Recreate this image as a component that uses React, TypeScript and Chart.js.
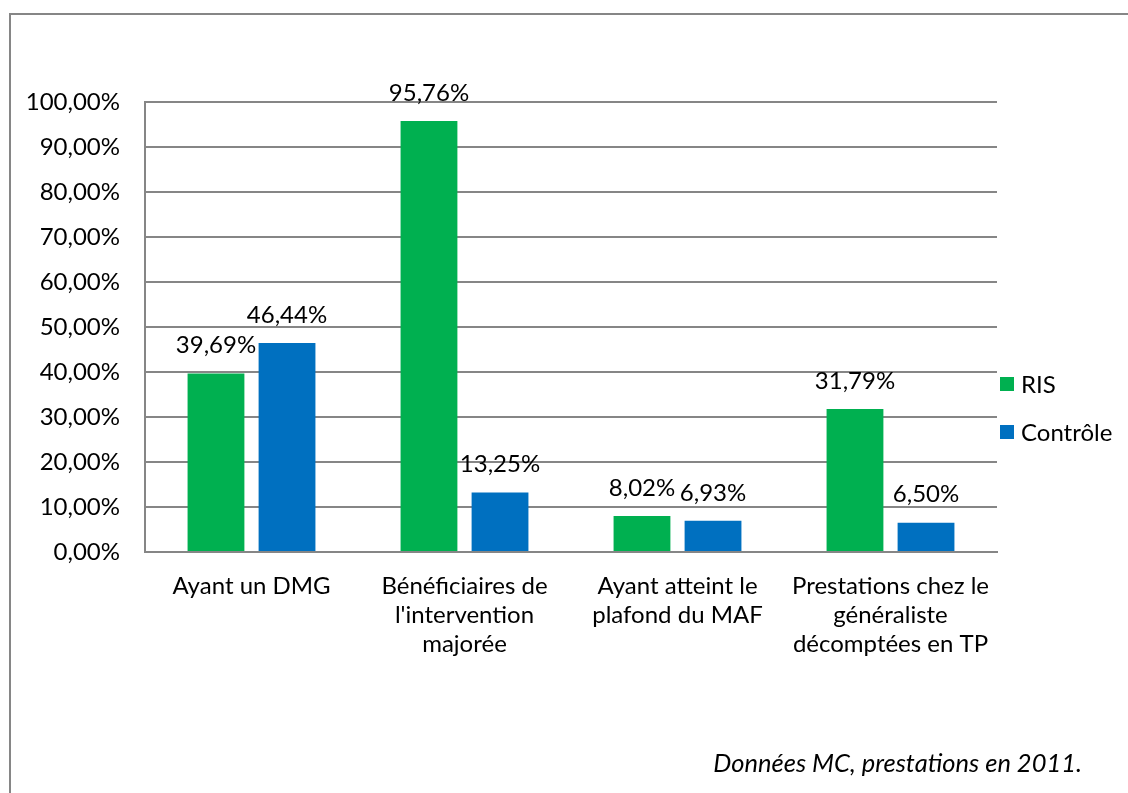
import React, { useEffect, useRef } from "react";
import { Chart, registerables } from "chart.js";

Chart.register(...registerables);

const categories: (string | string[])[] = [
  "Ayant un DMG",
  ["Bénéficiaires de", "l'intervention", "majorée"],
  ["Ayant atteint le", "plafond du MAF"],
  ["Prestations chez le", "généraliste", "décomptées en TP"],
];
const risValues = [39.69, 95.76, 8.02, 31.79];
const controleValues = [46.44, 13.25, 6.93, 6.5];
const seriesNames = ["RIS", "Contrôle"];
const footerText = "Données MC, prestations en 2011.";

const FONT = "Lato, 'Liberation Sans', sans-serif";
const GREEN = "#00B050";
const BLUE = "#0070C0";
const GRID = "#868686";

const fmt = (v: number) => v.toFixed(2).replace(".", ",") + "%";

const labelPlugin = {
  id: "valueLabels",
  afterDatasetsDraw(chart: any) {
    const ctx = chart.ctx;
    ctx.save();
    ctx.font = `24px ${FONT}`;
    ctx.fillStyle = "#000";
    ctx.textAlign = "center";
    ctx.textBaseline = "middle";
    chart.data.datasets.forEach((ds: any, i: number) => {
      const meta = chart.getDatasetMeta(i);
      meta.data.forEach((bar: any, j: number) => {
        ctx.fillText(fmt(ds.data[j]), bar.x, bar.y - 28);
      });
    });
    ctx.restore();
  },
};

const legendPlugin = {
  id: "sideLegend",
  afterDraw(chart: any) {
    const ctx = chart.ctx;
    ctx.save();
    ctx.font = `24px ${FONT}`;
    ctx.textBaseline = "middle";
    ctx.textAlign = "left";
    const ys = [384, 432];
    chart.data.datasets.forEach((ds: any, i: number) => {
      const y = ys[i];
      ctx.fillStyle = ds.backgroundColor;
      ctx.fillRect(1000, y - 7, 14, 14);
      ctx.fillStyle = "#000";
      ctx.fillText(ds.label, 1021, y + 1);
    });
    ctx.restore();
  },
};

export default function App() {
  const ref = useRef<HTMLCanvasElement | null>(null);

  useEffect(() => {
    if (!ref.current) return;
    const chart = new Chart(ref.current, {
      type: "bar",
      data: {
        labels: categories,
        datasets: [
          { label: seriesNames[0], data: risValues, backgroundColor: GREEN },
          { label: seriesNames[1], data: controleValues, backgroundColor: BLUE },
        ],
      },
      options: {
        animation: false,
        responsive: false,
        devicePixelRatio: 1,
        layout: { padding: { left: 0, right: 131, top: 102, bottom: 0 } },
        datasets: {
          bar: { categoryPercentage: 0.667, barPercentage: 0.8 },
        },
        plugins: {
          legend: { display: false },
          tooltip: { enabled: false },
          title: { display: false },
        },
        scales: {
          x: {
            grid: { display: false, drawTicks: false },
            border: { display: true, color: GRID, width: 2 },
            ticks: {
              color: "#000",
              font: { family: FONT, size: 24, lineHeight: 1.208 },
              padding: 20,
              maxRotation: 0,
              autoSkip: false,
            },
            afterFit(scale: any) {
              scale.height = 241;
            },
          },
          y: {
            min: 0,
            max: 100,
            grid: { color: GRID, lineWidth: 2, drawTicks: false },
            border: { display: true, color: GRID, width: 2 },
            ticks: {
              stepSize: 10,
              color: "#000",
              font: { family: FONT, size: 24 },
              padding: 25,
              callback: (v: any) => fmt(Number(v)),
            },
            afterFit(scale: any) {
              scale.width = 145;
            },
          },
        },
      },
      plugins: [labelPlugin, legendPlugin],
    });
    return () => chart.destroy();
  }, []);

  return (
    <div
      style={{
        position: "fixed",
        left: 0,
        top: 0,
        width: 1128,
        height: 793,
        overflow: "hidden",
        background: "#fff",
      }}
    >
      <div
        style={{
          position: "absolute",
          left: 9,
          top: 13,
          width: 1300,
          height: 1000,
          border: `2px solid ${GRID}`,
        }}
      />
      <canvas
        ref={ref}
        width={1128}
        height={793}
        style={{ position: "absolute", left: 0, top: 0, width: 1128, height: 793 }}
      />
      <div
        style={{
          position: "absolute",
          right: 46,
          top: 748,
          fontFamily: FONT,
          fontStyle: "italic",
          fontSize: 25.5,
          lineHeight: "29px",
          color: "#000",
          whiteSpace: "nowrap",
        }}
      >
        {footerText}
      </div>
    </div>
  );
}
